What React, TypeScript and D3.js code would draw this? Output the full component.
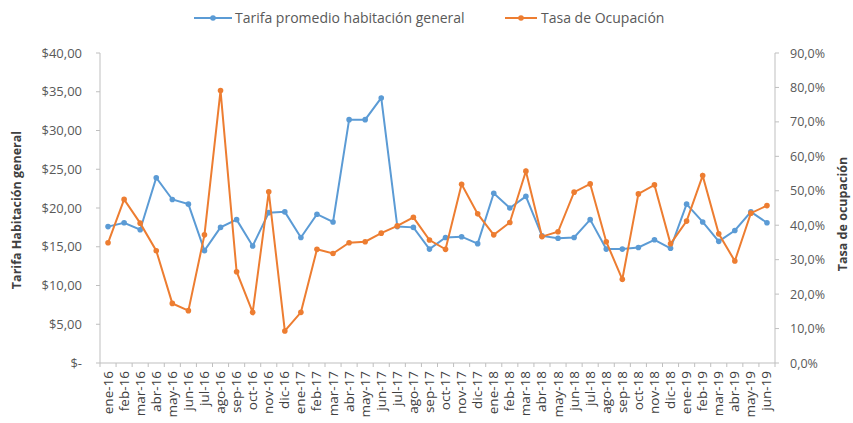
import React from "react";
import * as d3 from "d3";

const months = [
  "ene-16","feb-16","mar-16","abr-16","may-16","jun-16","jul-16","ago-16","sep-16","oct-16","nov-16","dic-16",
  "ene-17","feb-17","mar-17","abr-17","may-17","jun-17","jul-17","ago-17","sep-17","oct-17","nov-17","dic-17",
  "ene-18","feb-18","mar-18","abr-18","may-18","jun-18","jul-18","ago-18","sep-18","oct-18","nov-18","dic-18",
  "ene-19","feb-19","mar-19","abr-19","may-19","jun-19",
];

const tarifa = [
  17.6, 18.1, 17.2, 23.9, 21.1, 20.5, 14.5, 17.5, 18.5, 15.1, 19.4, 19.5,
  16.2, 19.2, 18.2, 31.4, 31.4, 34.2, 17.6, 17.5, 14.7, 16.2, 16.3, 15.4,
  21.9, 20.0, 21.5, 16.4, 16.1, 16.2, 18.5, 14.7, 14.7, 14.9, 15.9, 14.8,
  20.5, 18.2, 15.7, 17.1, 19.5, 18.1,
];

const ocupacion = [
  34.9, 47.5, 40.6, 32.6, 17.3, 15.2, 37.2, 79.1, 26.5, 14.7, 49.7, 9.3,
  14.7, 33.0, 31.8, 34.9, 35.2, 37.7, 39.8, 42.3, 35.7, 33.0, 51.9, 43.3,
  37.2, 40.8, 55.7, 36.7, 38.1, 49.6, 52.0, 35.2, 24.3, 49.1, 51.7, 34.6,
  41.2, 54.4, 37.5, 29.6, 43.5, 45.7,
];

const leftTicks = [0, 5, 10, 15, 20, 25, 30, 35, 40];
const rightTicks = [0, 10, 20, 30, 40, 50, 60, 70, 80, 90];

const W = 853, H = 423;
const L = 100, R = 775, T = 53, B = 363;
const BLUE = "#5B9BD5";
const ORANGE = "#ED7D31";
const TXT = "#595959";
const AX = "#BFBFBF";
const FONT = "'Open Sans', 'Liberation Sans', sans-serif";

export default function App() {
  const x = d3.scaleBand<string>().domain(months).range([L, R]);
  const yL = d3.scaleLinear().domain([0, 40]).range([B, T]);
  const yR = d3.scaleLinear().domain([0, 90]).range([B, T]);
  const cx = (m: string) => (x(m) as number) + x.bandwidth() / 2;

  const lineL = d3.line<number>().x((_, i) => cx(months[i])).y((d) => yL(d));
  const lineR = d3.line<number>().x((_, i) => cx(months[i])).y((d) => yR(d));

  const fmtL = (v: number) => (v === 0 ? "$-" : "$" + v.toFixed(2).replace(".", ","));
  const fmtR = (v: number) => v.toFixed(1).replace(".", ",") + "%";

  return (
    <svg width={W} height={H} style={{ position: "absolute", left: 0, top: 0, background: "#fff" }} fontFamily={FONT}>
      {/* legend */}
      <g fontSize={14} fill={TXT}>
        <line x1={194} x2={232} y1={18} y2={18} stroke={BLUE} strokeWidth={2} />
        <circle cx={213} cy={18} r={2.8} fill={BLUE} />
        <text x={235} y={23}>Tarifa promedio habitación general</text>
        <line x1={505} x2={537} y1={18} y2={18} stroke={ORANGE} strokeWidth={2} />
        <circle cx={521} cy={18} r={2.8} fill={ORANGE} />
        <text x={541} y={23}>Tasa de Ocupación</text>
      </g>

      {/* axes */}
      <line x1={L} x2={L} y1={T} y2={B} stroke={AX} />
      <line x1={R} x2={R} y1={T} y2={B} stroke={AX} />
      <line x1={L} x2={R} y1={B} y2={B} stroke={AX} />

      {leftTicks.map((t) => (
        <g key={"l" + t}>
          <line x1={L - 4} x2={L} y1={yL(t)} y2={yL(t)} stroke={AX} />
          <text x={82} y={yL(t) + 4.5} textAnchor="end" fontSize={13} fill={TXT}>{fmtL(t)}</text>
        </g>
      ))}
      {rightTicks.map((t) => (
        <g key={"r" + t}>
          <line x1={R} x2={R + 4} y1={yR(t)} y2={yR(t)} stroke={AX} />
          <text x={790} y={yR(t) + 4.5} textAnchor="start" fontSize={12.5} fill={TXT}>{fmtR(t)}</text>
        </g>
      ))}

      {months.map((m, i) => (
        <line key={"xt" + i} x1={x(m) as number} x2={x(m) as number} y1={B} y2={B + 4} stroke={AX} />
      ))}
      <line x1={R} x2={R} y1={B} y2={B + 4} stroke={AX} />
      {months.map((m) => (
        <text
          key={"xl" + m}
          transform={`translate(${cx(m) + 4.5},${B + 8}) rotate(-90)`}
          textAnchor="end"
          fontSize={13.5}
          fill="#404040"
        >
          {m}
        </text>
      ))}

      {/* axis titles */}
      <text transform={`translate(21,210) rotate(-90)`} textAnchor="middle" fontSize={12.5} fontWeight="bold" fill="#404040">
        Tarifa Habitación general
      </text>
      <text transform={`translate(847,214) rotate(-90)`} textAnchor="middle" fontSize={12.5} fontWeight="bold" fill="#404040">
        Tasa de ocupación
      </text>

      {/* series */}
      <path d={lineL(tarifa) as string} fill="none" stroke={BLUE} strokeWidth={2} />
      {tarifa.map((v, i) => (
        <circle key={"b" + i} cx={cx(months[i])} cy={yL(v)} r={2.8} fill={BLUE} />
      ))}
      <path d={lineR(ocupacion) as string} fill="none" stroke={ORANGE} strokeWidth={2} />
      {ocupacion.map((v, i) => (
        <circle key={"o" + i} cx={cx(months[i])} cy={yR(v)} r={2.8} fill={ORANGE} />
      ))}
    </svg>
  );
}
